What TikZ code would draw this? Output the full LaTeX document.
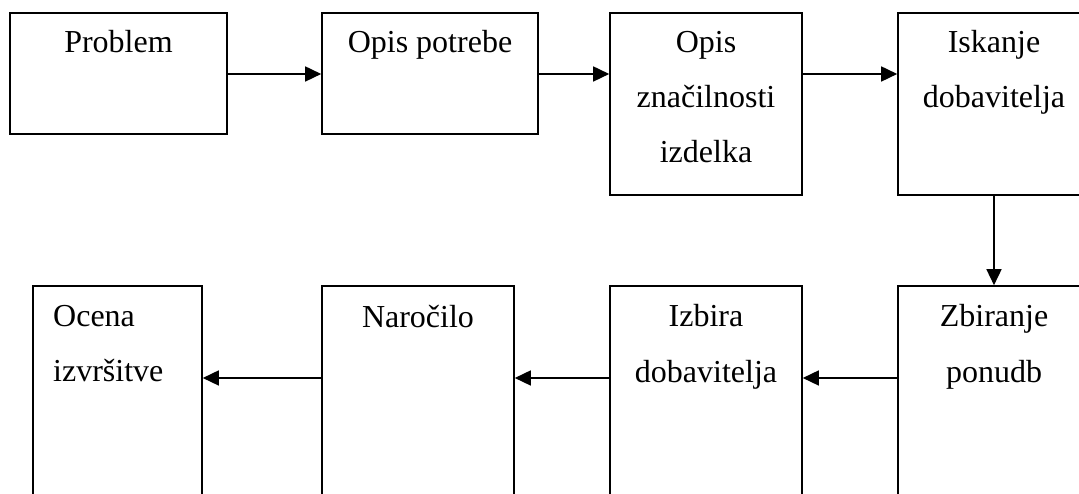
\documentclass[tikz,border=0pt]{standalone}
\usepackage{fontspec}
\setmainfont{Liberation Serif}
\usetikzlibrary{arrows.meta}
\begin{document}
\begin{tikzpicture}[x=1pt,y=1pt,
  box/.style={draw, line width=1.6pt, rectangle, inner sep=0pt},
  lbl/.style={anchor=base, inner sep=0pt, font=\fontsize{32}{38}\selectfont},
  conn/.style={line width=1.6pt, -{Triangle[length=16pt,width=15pt]}}]
\useasboundingbox (0,0) rectangle (1079,494);
\clip (0,0) rectangle (1079,494);
\fill[white] (0,0) rectangle (1079,494);
% row 1 boxes
\node[box, minimum width=217pt, minimum height=121pt] (b1) at (118.5,420.5) {};
\node[box, minimum width=216pt, minimum height=121pt] (b2) at (430,420.5) {};
\node[box, minimum width=192pt, minimum height=182pt] (b3) at (706,390) {};
\node[box, minimum width=192pt, minimum height=182pt] (b4) at (994,390) {};
% row 2 boxes
\node[box, minimum width=192pt, minimum height=274pt] (b5) at (994,71) {};
\node[box, minimum width=192pt, minimum height=274pt] (b6) at (706,71) {};
\node[box, minimum width=192pt, minimum height=274pt] (b7) at (418,71) {};
\node[box, minimum width=169pt, minimum height=274pt] (b8) at (117.5,71) {};
% labels
\node[lbl] (t1) at (118.5,441) {Problem};
\node[lbl] (t2) at (430,441) {Opis potrebe};
\node[lbl] (t3a) at (706,441) {Opis};
\node[lbl] (t3b) at (706,386) {značilnosti};
\node[lbl] (t3c) at (706,331) {izdelka};
\node[lbl] (t4a) at (994,441) {Iskanje};
\node[lbl] (t4b) at (994,386) {dobavitelja};
\node[lbl] (t5a) at (994,167) {Zbiranje};
\node[lbl] (t5b) at (994,111) {ponudb};
\node[lbl] (t6a) at (706,167) {Izbira};
\node[lbl] (t6b) at (706,111) {dobavitelja};
\node[lbl] (t7) at (418,166) {Naročilo};
\node[lbl, anchor=base west] (t8a) at (53,167) {Ocena};
\node[lbl, anchor=base west] (t8b) at (53,112) {izvršitve};
% connector levels
\coordinate (r1) at (0,420);
\coordinate (r2) at (0,116);
% connectors
\draw[conn] (b1.east |- r1) -- (b2.west |- r1);
\draw[conn] (b2.east |- r1) -- (b3.west |- r1);
\draw[conn] (b3.east |- r1) -- (b4.west |- r1);
\draw[conn] (b4.south) -- (b5.north);
\draw[conn] (b5.west |- r2) -- (b6.east |- r2);
\draw[conn] (b6.west |- r2) -- (b7.east |- r2);
\draw[conn] (b7.west |- r2) -- (b8.east |- r2);
\end{tikzpicture}
\end{document}
